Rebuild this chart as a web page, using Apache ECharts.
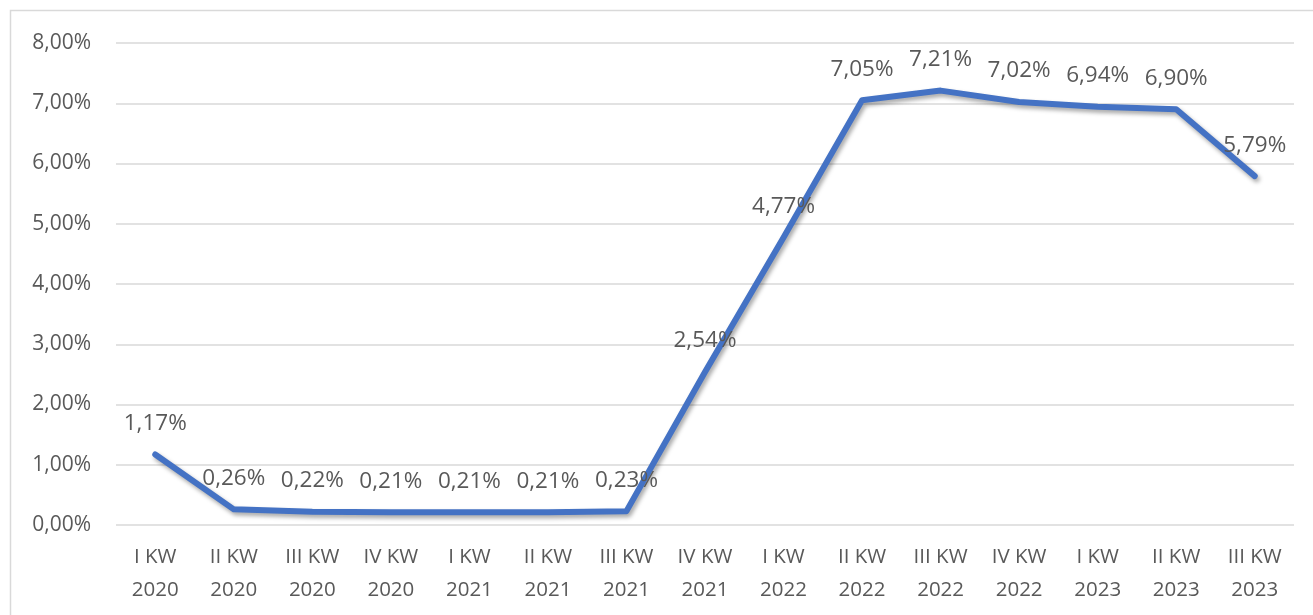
<!DOCTYPE html>
<html><head><meta charset="utf-8">
<script src="https://cdn.jsdelivr.net/npm/echarts@6/dist/echarts.min.js"></script>
<style>html,body{margin:0;padding:0;background:#fff}#c{width:1313px;height:615px}</style>
</head><body><div id="c"></div>
<script>
const categories = ['I KW\n2020','II KW\n2020','III KW\n2020','IV KW\n2020','I KW\n2021','II KW\n2021','III KW\n2021','IV KW\n2021','I KW\n2022','II KW\n2022','III KW\n2022','IV KW\n2022','I KW\n2023','II KW\n2023','III KW\n2023'];
const values = [1.17,0.26,0.22,0.21,0.21,0.21,0.23,2.54,4.77,7.05,7.21,7.02,6.94,6.90,5.79];
const fmt = v => v.toFixed(2).replace('.', ',') + '%';
const FONT = 'Open Sans';
const chart = echarts.init(document.getElementById('c'));
chart.setOption({
  animation: false,
  graphic: [{type:'rect', shape:{x:10.5,y:10.5,width:1400,height:700}, style:{fill:'none', stroke:'#d9d9d9', lineWidth:1.5}, silent:true, z:-1}],
  grid: {left:116, right:19, top:43, bottom:90},
  xAxis: {
    type:'category', data: categories, boundaryGap:true,
    axisLine:{show:false}, axisTick:{show:false},
    axisLabel:{color:'#595959', fontFamily:FONT, fontSize:20.5, lineHeight:33, margin:16, interval:0}
  },
  yAxis: {
    type:'value', min:0, max:8, interval:1,
    axisLine:{show:false}, axisTick:{show:false},
    splitLine:{lineStyle:{color:'#d9d9d9', width:1.5}},
    axisLabel:{color:'#595959', fontFamily:FONT, fontSize:21, margin:25, formatter: v => fmt(v)}
  },
  series: [{
    type:'line', data: values, symbol:'circle', symbolSize:1, showSymbol:true,
    itemStyle:{color:'rgba(68,114,196,0)'},
    lineStyle:{color:'#4472C4', width:6, cap:'round', join:'round', shadowColor:'rgba(0,0,0,0.35)', shadowBlur:4, shadowOffsetX:2, shadowOffsetY:3},
    label:{show:true, position:'top', distance:19, color:'#595959', fontFamily:FONT, fontSize:22.5, formatter: p => fmt(p.value)}
  }]
});
</script></body></html>
